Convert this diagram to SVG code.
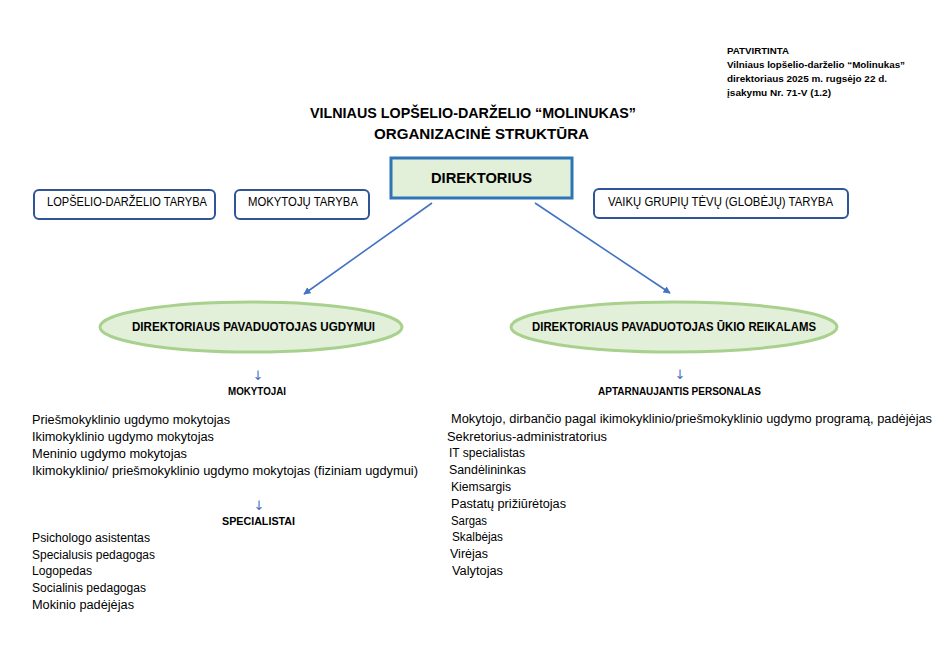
<svg xmlns="http://www.w3.org/2000/svg" width="948" height="669" viewBox="0 0 948 669">
<defs>
<style>
text{font-family:"Liberation Sans",Arial,sans-serif;fill:#000}
.b{font-weight:bold}
.hd{font-size:9.5px;font-weight:bold}
.ttl{font-size:15px;font-weight:bold}
.box{fill:#fff;stroke:#2f5597;stroke-width:2}
.bx{font-size:12px}
.ell{fill:#e2efd9;stroke:#a9d18e;stroke-width:3}
.et{font-size:12px;font-weight:bold}
.li{font-size:12.5px}
.sh{font-size:11.5px;font-weight:bold}
.ar{font-family:"DejaVu Sans",sans-serif;font-size:13px;fill:#4472c4}
.con{stroke:#4472c4;stroke-width:1.6;fill:none}
</style>
<marker id="ah" viewBox="0 0 10 10" refX="9" refY="5" markerWidth="4.5" markerHeight="4.5" orient="auto" markerUnits="strokeWidth">
<path d="M0,0 L10,5 L0,10 z" fill="#4472c4"/>
</marker>
</defs>
<rect width="948" height="669" fill="#fff"/>

<g id="header">
<text class="hd" x="727" y="54" textLength="62" lengthAdjust="spacingAndGlyphs">PATVIRTINTA</text>
<text class="hd" x="727" y="68" textLength="178" lengthAdjust="spacingAndGlyphs">Vilniaus lopšelio-darželio “Molinukas”</text>
<text class="hd" x="727" y="82" textLength="160" lengthAdjust="spacingAndGlyphs">direktoriaus 2025 m. rugsėjo 22 d.</text>
<text class="hd" x="727" y="96" textLength="104" lengthAdjust="spacingAndGlyphs">įsakymu Nr. 71-V (1.2)</text>
</g>

<g id="title">
<text class="ttl" x="310" y="118" textLength="326" lengthAdjust="spacingAndGlyphs">VILNIAUS LOPŠELIO-DARŽELIO “MOLINUKAS”</text>
<text class="ttl" x="374" y="139" textLength="215" lengthAdjust="spacingAndGlyphs">ORGANIZACINĖ STRUKTŪRA</text>
</g>

<g id="connectors">
<line class="con" x1="432" y1="203" x2="304" y2="294" marker-end="url(#ah)"/>
<line class="con" x1="535" y1="203" x2="670" y2="293" marker-end="url(#ah)"/>
</g>

<g id="direktorius">
<rect x="391" y="158" width="181" height="40" fill="#e2efd9" stroke="#2e75b6" stroke-width="3"/>
<text class="b" x="431" y="183" font-size="15" textLength="101" lengthAdjust="spacingAndGlyphs">DIREKTORIUS</text>
</g>

<g id="lopselio-taryba">
<rect class="box" x="34" y="190" width="181" height="29" rx="5"/>
<text class="bx" x="47" y="206" textLength="160" lengthAdjust="spacingAndGlyphs">LOPŠELIO-DARŽELIO TARYBA</text>
</g>

<g id="mokytoju-taryba">
<rect class="box" x="235" y="190" width="134" height="29" rx="5"/>
<text class="bx" x="248" y="206" textLength="110" lengthAdjust="spacingAndGlyphs">MOKYTOJŲ TARYBA</text>
</g>

<g id="tevu-taryba">
<rect class="box" x="594" y="189" width="254" height="29" rx="5"/>
<text class="bx" x="608" y="206" textLength="225" lengthAdjust="spacingAndGlyphs">VAIKŲ GRUPIŲ TĖVŲ (GLOBĖJŲ) TARYBA</text>
</g>

<g id="pav-ugdymui">
<ellipse class="ell" cx="251" cy="327" rx="151" ry="25"/>
<text class="et" x="132" y="331" textLength="243" lengthAdjust="spacingAndGlyphs">DIREKTORIAUS PAVADUOTOJAS UGDYMUI</text>
</g>

<g id="pav-ukio">
<ellipse class="ell" cx="674" cy="327" rx="163" ry="25"/>
<text class="et" x="532" y="331" textLength="284" lengthAdjust="spacingAndGlyphs">DIREKTORIAUS PAVADUOTOJAS ŪKIO REIKALAMS</text>
</g>

<g id="mokytojai">
<text class="ar" x="258" y="380" text-anchor="middle">↓</text>
<text class="sh" x="228" y="395" textLength="58" lengthAdjust="spacingAndGlyphs">MOKYTOJAI</text>
<text class="li" x="32" y="424" textLength="198" lengthAdjust="spacingAndGlyphs">Priešmokyklinio ugdymo mokytojas</text>
<text class="li" x="32" y="441" textLength="182" lengthAdjust="spacingAndGlyphs">Ikimokyklinio ugdymo mokytojas</text>
<text class="li" x="32" y="458" textLength="155" lengthAdjust="spacingAndGlyphs">Meninio ugdymo mokytojas</text>
<text class="li" x="32" y="475" textLength="386" lengthAdjust="spacingAndGlyphs">Ikimokyklinio/ priešmokyklinio ugdymo mokytojas (fiziniam ugdymui)</text>
</g>

<g id="specialistai">
<text class="ar" x="259" y="510" text-anchor="middle">↓</text>
<text class="sh" x="222" y="525" textLength="73" lengthAdjust="spacingAndGlyphs">SPECIALISTAI</text>
<text class="li" x="32" y="542" textLength="118" lengthAdjust="spacingAndGlyphs">Psichologo asistentas</text>
<text class="li" x="32" y="559" textLength="123" lengthAdjust="spacingAndGlyphs">Specialusis pedagogas</text>
<text class="li" x="32" y="575" textLength="60" lengthAdjust="spacingAndGlyphs">Logopedas</text>
<text class="li" x="32" y="592" textLength="114" lengthAdjust="spacingAndGlyphs">Socialinis pedagogas</text>
<text class="li" x="32" y="609" textLength="102" lengthAdjust="spacingAndGlyphs">Mokinio padėjėjas</text>
</g>

<g id="aptarnaujantis">
<text class="ar" x="680" y="379" text-anchor="middle">↓</text>
<text class="sh" x="598" y="395" textLength="163" lengthAdjust="spacingAndGlyphs">APTARNAUJANTIS PERSONALAS</text>
<text class="li" x="451" y="423" textLength="481" lengthAdjust="spacingAndGlyphs">Mokytojo, dirbančio pagal ikimokyklinio/priešmokyklinio ugdymo programą, padėjėjas</text>
<text class="li" x="447" y="441" textLength="160" lengthAdjust="spacingAndGlyphs">Sekretorius-administratorius</text>
<text class="li" x="449" y="457" textLength="76" lengthAdjust="spacingAndGlyphs">IT specialistas</text>
<text class="li" x="449" y="474" textLength="77" lengthAdjust="spacingAndGlyphs">Sandėlininkas</text>
<text class="li" x="451" y="491" textLength="60" lengthAdjust="spacingAndGlyphs">Kiemsargis</text>
<text class="li" x="451" y="508" textLength="115" lengthAdjust="spacingAndGlyphs">Pastatų prižiūrėtojas</text>
<text class="li" x="451" y="525" textLength="36" lengthAdjust="spacingAndGlyphs">Sargas</text>
<text class="li" x="452" y="541" textLength="51" lengthAdjust="spacingAndGlyphs">Skalbėjas</text>
<text class="li" x="450" y="558" textLength="38" lengthAdjust="spacingAndGlyphs">Virėjas</text>
<text class="li" x="452" y="575" textLength="51" lengthAdjust="spacingAndGlyphs">Valytojas</text>
</g>
</svg>
